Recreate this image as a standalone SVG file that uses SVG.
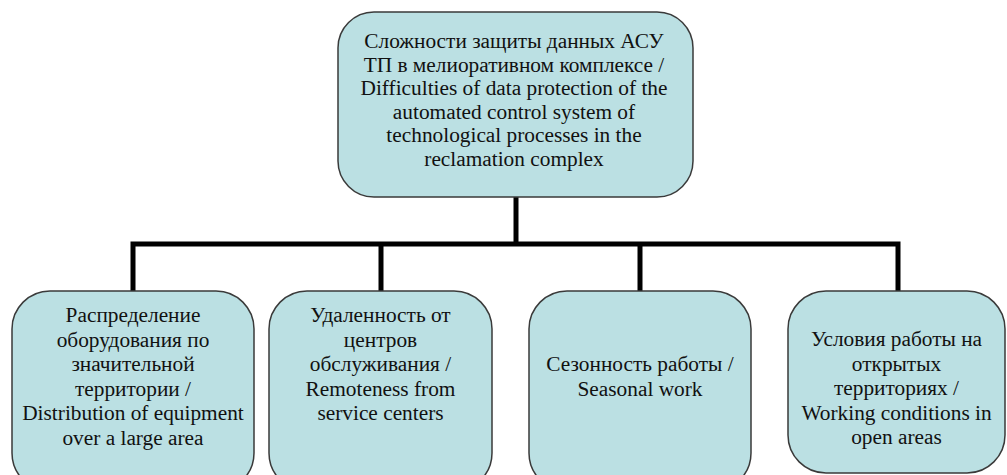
<svg xmlns="http://www.w3.org/2000/svg" width="1007" height="475" viewBox="0 0 1007 475">
<style>
.box{fill:#bbe0e3;stroke:#3a3a3a;stroke-width:1.5}
.t{font-family:"Liberation Serif","Times New Roman",serif;font-size:21.33px;fill:#111;text-anchor:middle}
.c{fill:none;stroke:#000;stroke-width:5}
</style>
<rect width="1007" height="475" fill="#fff"/>
<g id="connectors">
<line class="c" x1="516" y1="197" x2="516" y2="244"/>
<polyline class="c" points="133,291 133,244 898,244 898,291"/>
<line class="c" x1="381" y1="244" x2="381" y2="291"/>
<line class="c" x1="640" y1="244" x2="640" y2="291"/>
</g>
<g id="root">
<rect class="box" x="338" y="12" width="355" height="185" rx="36"/>
<text class="t"><tspan x="514" y="48">Сложности защиты данных АСУ</tspan><tspan x="514" y="71.5">ТП в мелиоративном комплексе /</tspan><tspan x="514" y="95">Difficulties of data protection of the</tspan><tspan x="514" y="118.5">automated control system of</tspan><tspan x="514" y="142">technological processes in the</tspan><tspan x="514" y="165.5">reclamation complex</tspan></text>
</g>
<g id="n1">
<rect class="box" x="12" y="291" width="242" height="200" rx="38"/>
<text class="t"><tspan x="133" y="322">Распределение</tspan><tspan x="133" y="346.5">оборудования по</tspan><tspan x="133" y="371">значительной</tspan><tspan x="133" y="395.5">территории /</tspan><tspan x="133" y="420">Distribution of equipment</tspan><tspan x="133" y="444.5">over a large area</tspan></text>
</g>
<g id="n2">
<rect class="box" x="269" y="291" width="223" height="200" rx="38"/>
<text class="t"><tspan x="380.5" y="322">Удаленность от</tspan><tspan x="380.5" y="346.5">центров</tspan><tspan x="380.5" y="371">обслуживания /</tspan><tspan x="380.5" y="395.5">Remoteness from</tspan><tspan x="380.5" y="420">service centers</tspan></text>
</g>
<g id="n3">
<rect class="box" x="529" y="291" width="222" height="200" rx="38"/>
<text class="t"><tspan x="640" y="371">Сезонность работы /</tspan><tspan x="640" y="395.5">Seasonal work</tspan></text>
</g>
<g id="n4">
<rect class="box" x="788" y="291" width="217" height="182" rx="38"/>
<text class="t"><tspan x="896.5" y="346">Условия работы на</tspan><tspan x="896.5" y="370.5">открытых</tspan><tspan x="896.5" y="395">территориях /</tspan><tspan x="896.5" y="419.5">Working conditions in</tspan><tspan x="896.5" y="444">open areas</tspan></text>
</g>
</svg>
